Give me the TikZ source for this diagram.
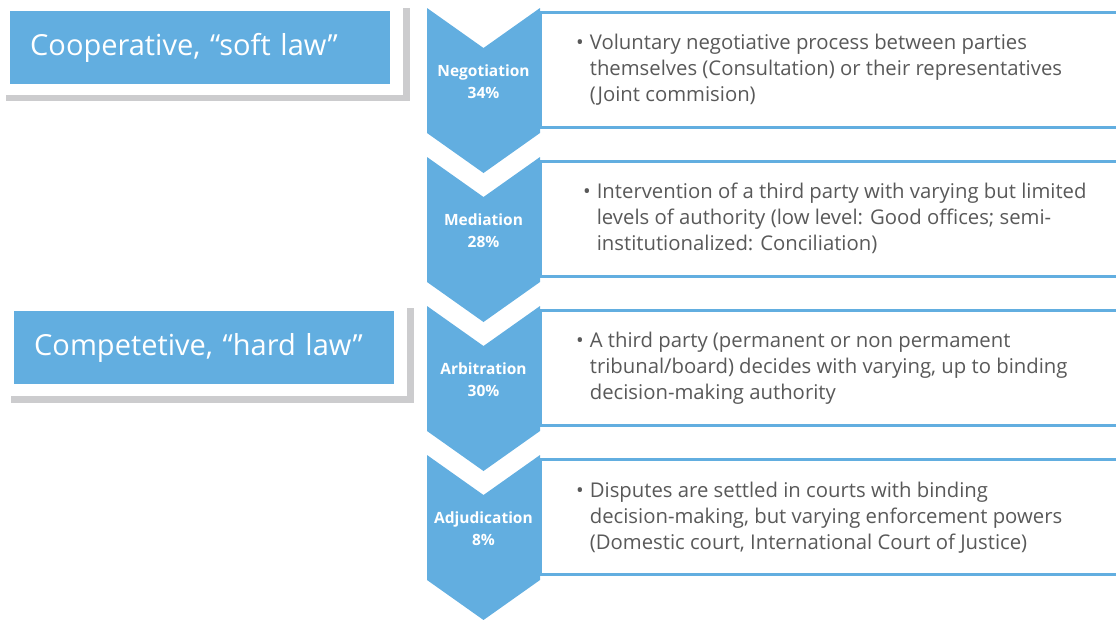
\documentclass[tikz,border=0pt]{standalone}
\usepackage{fontspec}
\setmainfont{Open Sans}
\definecolor{stepblue}{RGB}{98,174,224}
\definecolor{shadowgray}{RGB}{204,204,206}
\definecolor{textgray}{RGB}{89,89,89}
\tikzstyle{lawbox} = [fill=stepblue, text=white, anchor=north west, inner xsep=20pt, inner ysep=0pt, text width=340pt, minimum height=73pt, font=\fontsize{29}{32}\selectfont]
\tikzstyle{shadow} = [fill=shadowgray]
\tikzstyle{chev} = [fill=stepblue]
\tikzstyle{chevlabel} = [text=white, align=center, font=\bfseries\fontsize{15.5}{22}\selectfont]
\tikzstyle{descbox} = [draw=stepblue, line width=3pt, fill=white]
\tikzstyle{desc} = [text=textgray, anchor=west, inner sep=0pt, font=\fontsize{20.3}{26}\selectfont]
\newcommand{\bulletlines}[3]{\begin{tabular}{@{}l@{\hspace{6pt}}l@{}}\textbullet & #1\\ & #2\\ & #3\end{tabular}}

\begin{document}
\begin{tikzpicture}[x=1pt, y=-1pt]
\useasboundingbox (0,0) rectangle (1116,619);
% left labels
\fill[shadow] (403,8) rectangle (410,101);
\fill[shadow] (6,95) rectangle (410,101);
\node[lawbox] (coop) at (10,11) {Cooperative, “soft law”};
\fill[shadow] (407,308) rectangle (414,403);
\fill[shadow] (11,396) rectangle (414,403);
\node[lawbox] (comp) at (14,311) {Competetive, “hard law”};
% description boxes
\draw[descbox] (540, 12.5) rectangle (1130,127);
\draw[descbox] (540,161.5) rectangle (1130,276);
\draw[descbox] (540,310.5) rectangle (1130,425);
\draw[descbox] (540,459.5) rectangle (1130,574);
% chevrons
\fill[chev] (427,  8) -- (483.5, 48) -- (540,  8) -- (540,133) -- (483.5,173) -- (427,133) -- cycle;
\fill[chev] (427,157) -- (483.5,197) -- (540,157) -- (540,282) -- (483.5,322) -- (427,282) -- cycle;
\fill[chev] (427,306) -- (483.5,346) -- (540,306) -- (540,431) -- (483.5,471) -- (427,431) -- cycle;
\fill[chev] (427,455) -- (483.5,495) -- (540,455) -- (540,580) -- (483.5,620) -- (427,580) -- cycle;
\node[chevlabel] (nego) at (483.5, 82) {Negotiation\\34\%};
\node[chevlabel] (medi) at (483.5,231) {Mediation\\28\%};
\node[chevlabel] (arbi) at (483.5,380) {Arbitration\\30\%};
\node[chevlabel] (adju) at (483.5,529) {Adjudication\\8\%};
% descriptions
\node[desc] (negotext) at (576, 70) {\bulletlines{Voluntary negotiative process between parties}{themselves (Consultation) or their representatives}{(Joint commision)}};
\node[desc] (meditext) at (583,219) {\bulletlines{Intervention of a third party with varying but limited}{levels of authority (low level: Good offices; semi-}{institutionalized: Conciliation)}};
\node[desc] (arbitext) at (576,368) {\bulletlines{A third party (permanent or non permament}{tribunal/board) decides with varying, up to binding}{decision-making authority}};
\node[desc] (adjutext) at (576,518) {\bulletlines{Disputes are settled in courts with binding}{decision-making, but varying enforcement powers}{(Domestic court, International Court of Justice)}};
\end{tikzpicture}
\end{document}
